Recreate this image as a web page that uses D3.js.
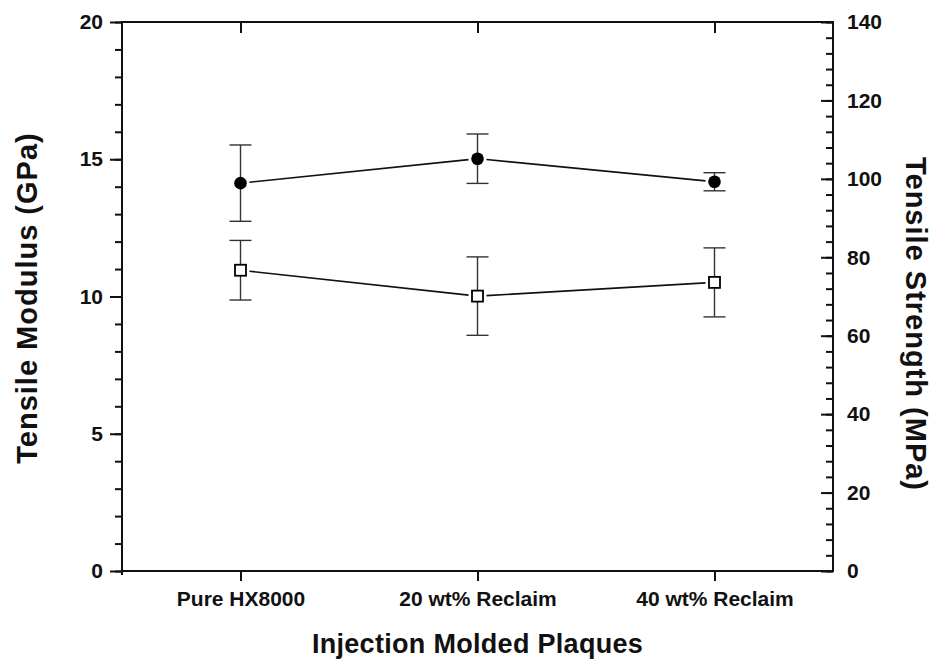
<!DOCTYPE html>
<html>
<head>
<meta charset="utf-8">
<script src="https://cdn.jsdelivr.net/npm/d3@7"></script>
<style>
  html, body { margin: 0; padding: 0; background: #fff; }
  svg text { font-family: "Liberation Sans", Arial, sans-serif; font-weight: bold; fill: #111; }
</style>
</head>
<body>
<div id="chart"></div>
<script>
// Tensile properties of injection molded plaques
const categories = ['Pure HX8000', '20 wt% Reclaim', '40 wt% Reclaim'];

// filled circles – left axis (GPa)
const modulusGPa = [14.13, 15.02, 14.18];
const modulusErr = [1.39, 0.90, 0.33];

// open squares – right axis (MPa)
const strengthMPa = [76.7, 70.1, 73.6];
const strengthErr = [7.6, 10.0, 8.8];

const leftTicks = [0, 5, 10, 15, 20];
const leftMinor = d3.range(0, 21, 1);
const rightTicks = [0, 20, 40, 60, 80, 100, 120, 140];
const rightMinor = d3.range(0, 141, 4);

const W = 935, H = 662;
const plot = { left: 122, right: 833, top: 22, bottom: 571 };

const svg = d3.select('#chart').append('svg')
    .attr('width', W)
    .attr('height', H);

const x = d3.scalePoint()
    .domain(categories)
    .range([plot.left, plot.right])
    .padding(0.5);

const yL = d3.scaleLinear().domain([0, 20]).range([plot.bottom, plot.top]);
const yR = d3.scaleLinear().domain([0, 140]).range([plot.bottom, plot.top]);

function styleAxis(g, fontSize) {
    g.select('.domain').remove();
    g.selectAll('.tick line').attr('stroke', '#111').attr('stroke-width', 2);
    g.selectAll('.tick text').attr('font-size', fontSize).attr('fill', '#111');
}

// minor ticks first
svg.append('g')
    .attr('transform', `translate(${plot.left},0)`)
    .call(d3.axisLeft(yL).tickValues(leftMinor).tickSize(7).tickFormat(''))
    .call(g => styleAxis(g, 0));

svg.append('g')
    .attr('transform', `translate(${plot.right},0)`)
    .call(d3.axisRight(yR).tickValues(rightMinor).tickSizeInner(-7).tickSizeOuter(0).tickFormat(''))
    .call(g => styleAxis(g, 0));

// major ticks
svg.append('g')
    .attr('transform', `translate(${plot.left},0)`)
    .call(d3.axisLeft(yL).tickValues(leftTicks).tickSize(12).tickPadding(7))
    .call(g => styleAxis(g, 21));

svg.append('g')
    .attr('transform', `translate(${plot.right},0)`)
    .call(d3.axisRight(yR).tickValues(rightTicks).tickSizeInner(-12).tickSizeOuter(0).tickPadding(14))
    .call(g => styleAxis(g, 21));

svg.append('g')
    .attr('transform', `translate(0,${plot.bottom})`)
    .call(d3.axisBottom(x).tickSize(10).tickPadding(10))
    .call(g => styleAxis(g, 21));

svg.append('g')
    .attr('transform', `translate(0,${plot.top})`)
    .call(d3.axisTop(x).tickSizeInner(-11).tickSizeOuter(0).tickFormat(''))
    .call(g => styleAxis(g, 0));

// frame
svg.append('rect')
    .attr('x', plot.left)
    .attr('y', plot.top)
    .attr('width', plot.right - plot.left)
    .attr('height', plot.bottom - plot.top)
    .attr('fill', 'none')
    .attr('stroke', '#111')
    .attr('stroke-width', 2);
svg.append('line')
    .attr('x1', plot.left).attr('x2', plot.left)
    .attr('y1', plot.bottom).attr('y2', plot.bottom + 4)
    .attr('stroke', '#111').attr('stroke-width', 2);

// series drawing
function drawSeries(values, errs, yScale, shape) {
    const pts = values.map((v, i) => ({
        cx: x(categories[i]),
        cy: yScale(v),
        lo: yScale(v - errs[i]),
        hi: yScale(v + errs[i])
    }));
    const g = svg.append('g');

    // connecting segments, trimmed so they stop short of the markers
    const gap = 9;
    for (let i = 0; i < pts.length - 1; i++) {
        const a = pts[i], b = pts[i + 1];
        const dx = b.cx - a.cx, dy = b.cy - a.cy;
        const len = Math.sqrt(dx * dx + dy * dy);
        const ux = dx / len, uy = dy / len;
        g.append('line')
            .attr('x1', a.cx + ux * gap).attr('y1', a.cy + uy * gap)
            .attr('x2', b.cx - ux * gap).attr('y2', b.cy - uy * gap)
            .attr('stroke', '#111')
            .attr('stroke-width', 1.6);
    }

    // error bars
    const cap = 11;
    pts.forEach(p => {
        g.append('line')
            .attr('x1', p.cx).attr('x2', p.cx)
            .attr('y1', p.hi).attr('y2', p.lo)
            .attr('stroke', '#333').attr('stroke-width', 1.4);
        [p.hi, p.lo].forEach(yy => {
            g.append('line')
                .attr('x1', p.cx - cap).attr('x2', p.cx + cap)
                .attr('y1', yy).attr('y2', yy)
                .attr('stroke', '#333').attr('stroke-width', 1.4);
        });
    });

    // markers
    if (shape === 'circle') {
        g.selectAll('circle')
            .data(pts)
            .join('circle')
            .attr('cx', d => d.cx)
            .attr('cy', d => d.cy)
            .attr('r', 6.3)
            .attr('fill', '#000');
    } else {
        g.selectAll('rect')
            .data(pts)
            .join('rect')
            .attr('x', d => d.cx - 5.5)
            .attr('y', d => d.cy - 5.5)
            .attr('width', 11)
            .attr('height', 11)
            .attr('fill', '#fff')
            .attr('stroke', '#000')
            .attr('stroke-width', 1.8);
    }
}

drawSeries(modulusGPa, modulusErr, yL, 'circle');
drawSeries(strengthMPa, strengthErr, yR, 'square');

// axis titles
svg.append('text')
    .attr('x', (plot.left + plot.right) / 2)
    .attr('y', 653)
    .attr('text-anchor', 'middle')
    .attr('font-size', 27)
    .attr('letter-spacing', 0.3)
    .text('Injection Molded Plaques');

svg.append('text')
    .attr('transform', 'translate(37,298) rotate(-90)')
    .attr('text-anchor', 'middle')
    .attr('font-size', 29)
    .attr('letter-spacing', 1)
    .text('Tensile Modulus (GPa)');

svg.append('text')
    .attr('transform', 'translate(906,324) rotate(90)')
    .attr('text-anchor', 'middle')
    .attr('font-size', 29)
    .attr('letter-spacing', 1)
    .text('Tensile Strength (MPa)');
</script>
</body>
</html>
